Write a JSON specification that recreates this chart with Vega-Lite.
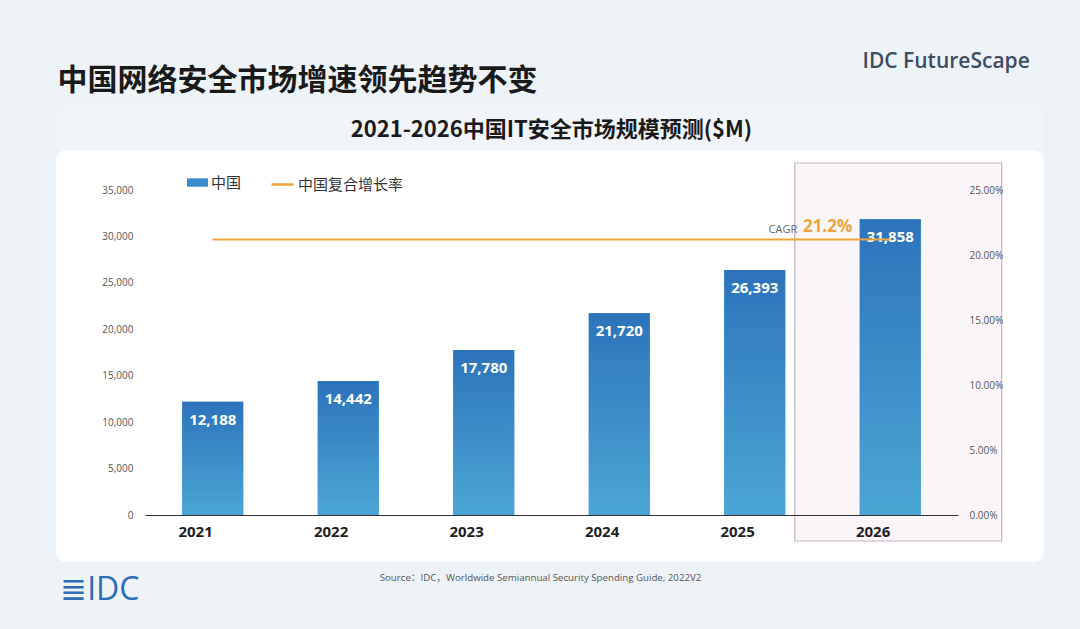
{
  "$schema": "https://vega.github.io/schema/vega-lite/v6.json",
  "autosize": "none",
  "width": 813,
  "height": 325,
  "padding": {"left": 145, "top": 190, "right": 122, "bottom": 114},
  "background": "#eef3f8",
  "config": {
    "view": {"stroke": null},
    "font": "Open Sans, Noto Sans CJK SC",
    "axis": {"zindex": 1, "grid": false, "ticks": false, "labelFont": "Open Sans, Noto Sans CJK SC"},
    "legend": {"labelFont": "Noto Sans CJK SC"}
  },
  "title": {
    "text": "2021-2026中国IT安全市场规模预测($M)",
    "anchor": "middle",
    "font": "Noto Sans CJK SC",
    "fontSize": 22,
    "fontWeight": "bold",
    "color": "#1a1a1a",
    "offset": 0,
    "dy": 92
  },
  "data": {
    "values": [
      {"year": "2021", "value": 12188, "cagr": 0.212},
      {"year": "2022", "value": 14442, "cagr": 0.212},
      {"year": "2023", "value": 17780, "cagr": 0.212},
      {"year": "2024", "value": 21720, "cagr": 0.212},
      {"year": "2025", "value": 26393, "cagr": 0.212},
      {"year": "2026", "value": 31858, "cagr": 0.212}
    ]
  },
  "layer": [
    {
      "layer": [
        {
          "transform": [{"filter": "datum.year == '2021'"}],
          "mark": {"type": "rect", "fill": "#f1f4f8", "cornerRadius": 10},
          "encoding": {
            "x": {"datum": "2021", "bandPosition": -2.066},
            "x2": {"datum": "2026", "bandPosition": 3.016},
            "y": {"datum": -5062, "scale": {"domain": [0, 35000]}},
            "y2": {"datum": 44154}
          }
        },
        {
          "transform": [{"filter": "datum.year == '2021'"}],
          "mark": {"type": "rect", "fill": "#ffffff", "cornerRadius": 10},
          "encoding": {
            "x": {"datum": "2021", "bandPosition": -2.066},
            "x2": {"datum": "2026", "bandPosition": 3.016},
            "y": {"datum": -5062, "scale": {"domain": [0, 35000]}},
            "y2": {"datum": 39308}
          }
        },
        {
          "transform": [{"filter": "datum.year == '2026'"}],
          "mark": {"type": "rect", "fill": "#faf5f8", "stroke": "#c4b4bd", "strokeWidth": 1.2},
          "encoding": {
            "x": {"field": "year", "type": "ordinal", "bandPosition": -1.066},
            "x2": {"field": "year", "bandPosition": 2.328},
            "y": {"datum": -2800, "scale": {"domain": [0, 35000]}},
            "y2": {"datum": 37908}
          }
        },
        {
          "mark": {"type": "bar"},
          "encoding": {
            "x": {
              "field": "year",
              "type": "ordinal",
              "scale": {"domain": ["2021", "2022", "2023", "2024", "2025", "2026"], "paddingInner": 0.55, "paddingOuter": 0.275},
              "axis": {
                "zindex": 2,
                "labelAngle": 0,
                "labelFontSize": 15,
                "labelFontWeight": "bold",
                "labelColor": "#1e1e1e",
                "labelPadding": 16,
                "domain": true,
                "domainColor": "#333333",
                "domainWidth": 1.2,
                "title": "Source：IDC，Worldwide Semiannual Security Spending Guide, 2022V2",
                "titleFont": "Open Sans, Noto Sans CJK SC",
                "titleFontSize": 9.7,
                "titleFontWeight": "normal",
                "titleColor": "#555555",
                "titleX": 395,
                "titleY": 62,
                "titleAlign": "center",
                "titleBaseline": "middle"
              }
            },
            "y": {
              "field": "value",
              "type": "quantitative",
              "scale": {"domain": [0, 35000], "nice": false},
              "axis": {
                "zindex": 2,
                "orient": "left",
                "values": [0, 5000, 10000, 15000, 20000, 25000, 30000, 35000],
                "format": ",.0f",
                "labelFontSize": 10,
                "labelColor": "#555555",
                "labelPadding": 12,
                "domain": false,
                "title": "中国网络安全市场增速领先趋势不变",
                "titleFont": "Noto Sans CJK SC",
                "titleFontSize": 30,
                "titleFontWeight": "bold",
                "titleColor": "#1a1a1a",
                "titleAngle": 0,
                "titleAlign": "left",
                "titleBaseline": "middle",
                "titleX": -88,
                "titleY": -110
              }
            },
            "fill": {
              "datum": "中国",
              "type": "nominal",
              "scale": {"range": ["#3a8cc8"]},
              "legend": {
                "orient": "none",
                "legendX": 42,
                "legendY": -18,
                "title": null,
                "symbolType": "M-1,-0.4H1V0.4H-1Z",
                "symbolSize": 441,
                "symbolStrokeWidth": 0,
                "labelFontSize": 15,
                "labelColor": "#333333",
                "labelOffset": 3
              }
            }
          }
        },
        {
          "mark": {
            "type": "bar",
            "color": {
              "gradient": "linear",
              "x1": 0, "y1": 0, "x2": 0, "y2": 1,
              "stops": [
                {"offset": 0, "color": "#2d73bb"},
                {"offset": 1, "color": "#4ba6d4"}
              ]
            }
          },
          "encoding": {
            "x": {"field": "year", "type": "ordinal"},
            "y": {"field": "value", "type": "quantitative", "scale": {"domain": [0, 35000], "nice": false}}
          }
        },
        {
          "mark": {"type": "text", "color": "#ffffff", "fontSize": 15, "fontWeight": "bold", "baseline": "middle", "dy": 18, "font": "Open Sans"},
          "encoding": {
            "x": {"field": "year", "type": "ordinal"},
            "y": {"field": "value", "type": "quantitative", "scale": {"domain": [0, 35000], "nice": false}},
            "text": {"field": "value", "type": "quantitative", "format": ","}
          }
        },
        {
          "transform": [{"filter": "datum.year == '2021'"}],
          "mark": {"type": "text", "text": "≣IDC", "color": "#2f6db5", "fontSize": 32, "font": "Open Sans, DejaVu Sans", "align": "left", "baseline": "middle"},
          "encoding": {
            "x": {"field": "year", "type": "ordinal", "bandPosition": -2.0},
            "y": {"datum": -8077, "scale": {"domain": [0, 35000]}}
          }
        }
      ]
    },
    {
      "layer": [
        {
          "mark": {"type": "line", "strokeWidth": 2},
          "encoding": {
            "x": {"field": "year", "type": "ordinal"},
            "y": {
              "field": "cagr",
              "type": "quantitative",
              "scale": {"domain": [0, 0.25], "nice": false},
              "axis": {
                "zindex": 2,
                "orient": "right",
                "values": [0, 0.05, 0.1, 0.15, 0.2, 0.25],
                "format": ".2%",
                "labelFontSize": 10,
                "labelColor": "#555555",
                "labelPadding": 11,
                "domain": false,
                "title": "IDC FutureScape",
                "titleFont": "Open Sans",
                "titleFontSize": 21,
                "titleFontWeight": 600,
                "titleColor": "#3d4b63",
                "titleAngle": 0,
                "titleAlign": "left",
                "titleBaseline": "middle",
                "titleX": -96,
                "titleY": -129
              }
            },
            "stroke": {
              "datum": "中国复合增长率",
              "type": "nominal",
              "scale": {"range": ["#eea53a"]},
              "legend": {
                "orient": "none",
                "legendX": 125,
                "legendY": -18,
                "title": null,
                "symbolType": "stroke",
                "symbolSize": 484,
                "symbolStrokeWidth": 2.5,
                "labelFontSize": 15,
                "labelColor": "#333333",
                "labelOffset": 3
              }
            }
          }
        },
        {
          "transform": [{"filter": "datum.year == '2026'"}],
          "mark": {"type": "text", "text": "21.2%", "color": "#eda53a", "fontSize": 17, "fontWeight": "bold", "align": "right", "baseline": "middle", "dx": -38, "dy": -12, "font": "Open Sans"},
          "encoding": {
            "x": {"field": "year", "type": "ordinal"},
            "y": {"field": "cagr", "type": "quantitative", "scale": {"domain": [0, 0.25], "nice": false}}
          }
        },
        {
          "transform": [{"filter": "datum.year == '2026'"}],
          "mark": {"type": "text", "text": "CAGR", "color": "#666666", "fontSize": 11, "align": "right", "baseline": "middle", "dx": -93, "dy": -9, "font": "Open Sans"},
          "encoding": {
            "x": {"field": "year", "type": "ordinal"},
            "y": {"field": "cagr", "type": "quantitative", "scale": {"domain": [0, 0.25], "nice": false}}
          }
        }
      ]
    }
  ],
  "resolve": {"scale": {"y": "independent", "fill": "independent", "stroke": "independent"}}
}
